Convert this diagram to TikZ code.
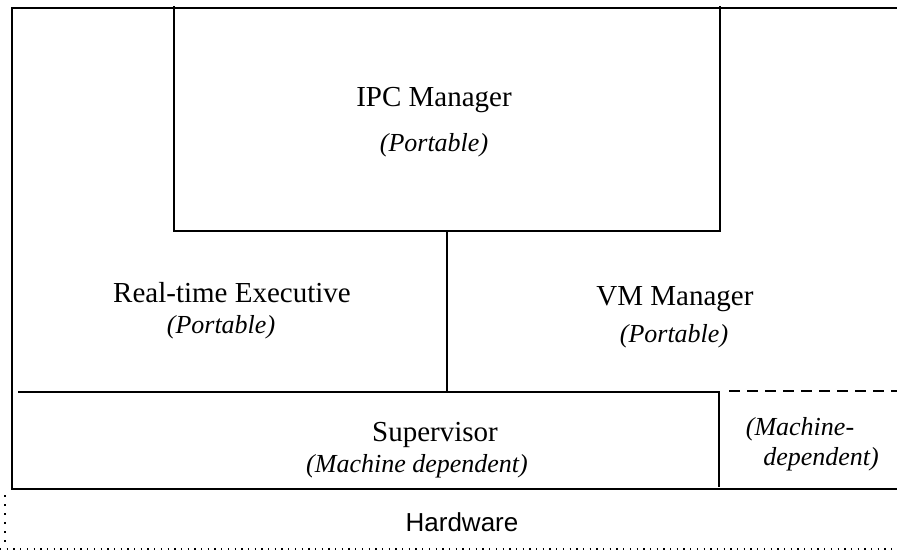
\documentclass[tikz,border=0pt]{standalone}
\usepackage{fontspec}
\setmainfont{Liberation Serif}
\setsansfont{Liberation Sans}
\begin{document}
\begin{tikzpicture}[x=1pt,y=-1pt,
  ln/.style={line width=1.5pt,black},
  rom/.style={inner sep=0pt,anchor=base,font=\fontsize{29}{33}\selectfont},
  ita/.style={inner sep=0pt,anchor=base,font=\fontsize{26}{30}\selectfont\itshape},
  hw/.style={inner sep=0pt,anchor=base,font=\sffamily\fontsize{26}{30}\selectfont}]
\useasboundingbox (0,0) rectangle (897,550);
% outer frame
\draw[ln] (897,8) -- (12,8) -- (12,489) -- (897,489);
% IPC box
\draw[ln] (174,6) -- (174,231) -- (720,231) -- (720,6);
% divider between executive and VM
\draw[ln] (447,231) -- (447,392);
% supervisor top line
\draw[ln] (18,392) -- (720,392);
\draw[line width=1.2pt,dash pattern=on 11pt off 7pt] (729,391) -- (897,391);
% supervisor right divider
\draw[line width=1.2pt] (719,392) -- (719,487);
% hardware dotted outline
\draw[line width=1.6pt,dash pattern=on 1.6pt off 7.4pt] (5,495) -- (5,544);
\draw[line width=1.2pt,dash pattern=on 1.3pt off 5.4pt] (0,549) -- (897,549);
% texts
\node[rom] (ipc) at (434,106) {IPC Manager};
\node[ita] (ipcp) at (434,151) {(Portable)};
\node[rom] (rte) at (232,302) {Real-time Executive};
\node[ita] (rtep) at (221,333) {(Portable)};
\node[rom] (vm) at (675,305) {VM Manager};
\node[ita] (vmp) at (674,342) {(Portable)};
\node[rom] (sup) at (435,441) {Supervisor};
\node[ita] (supp) at (417,472) {(Machine dependent)};
\node[ita] (md1) at (800,435) {(Machine-};
\node[ita] (md2) at (821,465) {dependent)};
\node[hw] (hwn) at (462,531) {Hardware};
\end{tikzpicture}
\end{document}
